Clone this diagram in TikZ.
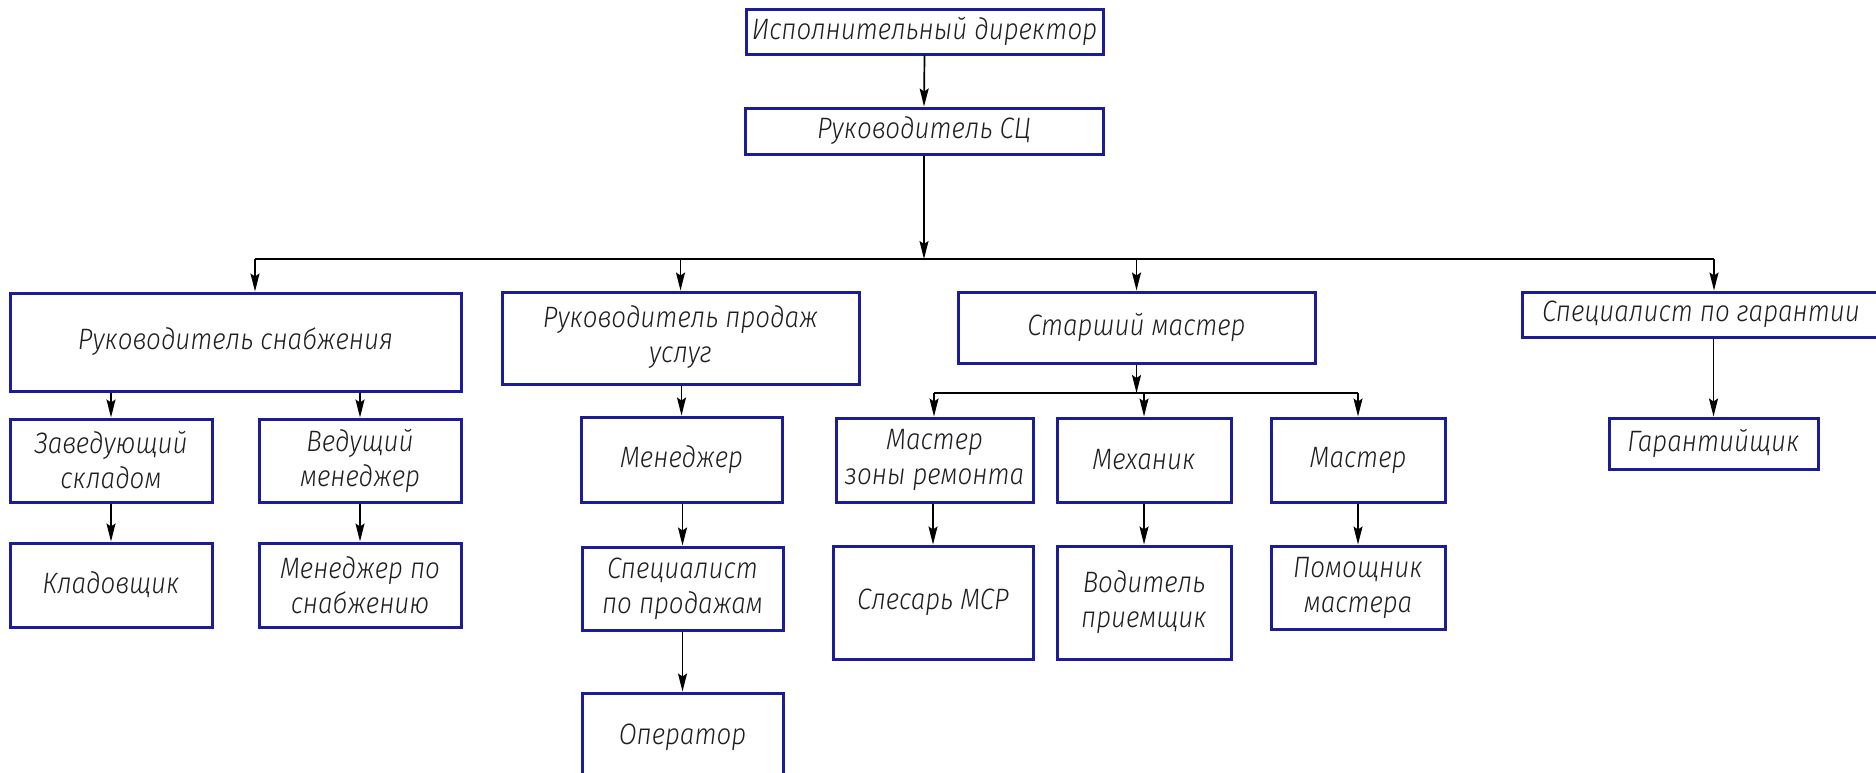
\documentclass[tikz,border=0pt]{standalone}
\usepackage{fontspec}
\IfFontExistsTF{Fira Sans Light Italic}
  {\newfontfamily\gost{Fira Sans Light Italic}[FakeStretch=0.88]\newcommand\gostshape{}}
  {\newfontfamily\gost{Fira Sans}[FakeStretch=0.88]\newcommand\gostshape{\itshape}}
\usetikzlibrary{arrows.meta,calc}
\definecolor{boxblue}{RGB}{28,28,150}
\definecolor{txtgray}{RGB}{30,30,30}
\newcommand\mybox[6]{\node[box, minimum width={(#4-#2)*1pt}, minimum height={(#5-#3)*1pt}] (#1) at ({(#2+#4)/2},{(#3+#5)/2}) {#6};}
\begin{document}
\begin{tikzpicture}[x=1pt,y=-1pt,
  box/.style={draw=boxblue, line width=3pt, inner sep=0pt, align=center, text=txtgray,
    font=\gost\fontsize{29.5}{35}\selectfont\gostshape},
  con/.style={draw=black, line width=1.7pt},
  arr/.style={con, -{Stealth[length=18pt,width=9pt,inset=3pt]}}]
\fill[white] (0,0) rectangle (1876,772);
\useasboundingbox (0,0) rectangle (1876,772);
% top
\mybox{dir}{746}{9}{1103}{54}{Исполнительный директор}
\mybox{sc}{745}{108}{1103}{154}{Руководитель СЦ}
% level 2
\mybox{rs}{10}{293}{461}{391}{Руководитель снабжения}
\mybox{rp}{502}{292}{859}{384}{Руководитель продаж\\услуг\\[-28pt]}
\mybox{sm}{958}{292}{1315}{363}{Старший мастер}
\mybox{sg}{1522}{292}{1880}{337}{Специалист по гарантии}
% level 3
\mybox{zs}{10}{419}{212}{502}{Заведующий\\складом}
\mybox{vm}{259}{419}{461}{502}{Ведущий\\менеджер}
\mybox{men}{581}{417}{782}{502}{Менеджер}
\mybox{mz}{836}{418}{1033}{502}{Мастер\\зоны ремонта}
\mybox{mech}{1057}{418}{1231}{502}{Механик}
\mybox{mast}{1271}{418}{1445}{502}{Мастер}
\mybox{gar}{1609}{418}{1818}{469}{Гарантийщик}
% level 4
\mybox{kl}{10}{543}{212}{627}{Кладовщик}
\mybox{mps}{259}{543}{461}{627}{Менеджер по\\снабжению}
\mybox{spp}{582}{547}{783}{630}{Специалист\\по продажам}
\mybox{sl}{833}{546}{1033}{659}{Слесарь МСР}
\mybox{vod}{1057}{546}{1231}{659}{Водитель\\приемщик}
\mybox{pom}{1271}{546}{1445}{629}{Помощник\\мастера}
% level 5
\mybox{op}{582}{693}{783}{782}{Оператор}
% buses
\coordinate (bL) at (255,259);
\coordinate (bC) at (924,259);
\coordinate (bR) at (1714,259);
\draw[con] (bL) -- (bR);
\draw[arr] (dir.south) -- (sc.north);
\draw[arr] (sc.south) -- (bC);
\draw[arr] (bL) -- (bL |- rs.north);
\draw[arr] (rp.north |- bC) -- (rp.north);
\draw[arr] (sm.north |- bC) -- (sm.north);
\draw[arr] (bR) -- (bR |- sg.north);
% supply branch
\draw[arr] (zs.north |- rs.south) -- (zs.north);
\draw[arr] (vm.north |- rs.south) -- (vm.north);
\draw[arr] (zs.south) -- (kl.north);
\draw[arr] (vm.south) -- (mps.north);
% sales branch
\draw[arr] (men.north |- rp.south) -- (men.north);
\draw[arr] (spp.north |- men.south) -- (spp.north);
\draw[arr] (op.north |- spp.south) -- (op.north);
% senior master branch
\coordinate (sbL) at (934,393);
\coordinate (sbR) at (1358,393);
\draw[con] (sbL) -- (sbR);
\draw[arr] (sm.south) -- (sm.south |- sbL);
\draw[arr] (sbL) -- (sbL |- mz.north);
\draw[arr] (mech.north |- sbL) -- (mech.north);
\draw[arr] (sbR) -- (sbR |- mast.north);
\draw[arr] (sl.north |- mz.south) -- (sl.north);
\draw[arr] (vod.north |- mech.south) -- (vod.north);
\draw[arr] (pom.north |- mast.south) -- (pom.north);
% warranty
\draw[arr] (gar.north |- sg.south) -- (gar.north);
\end{tikzpicture}
\end{document}
